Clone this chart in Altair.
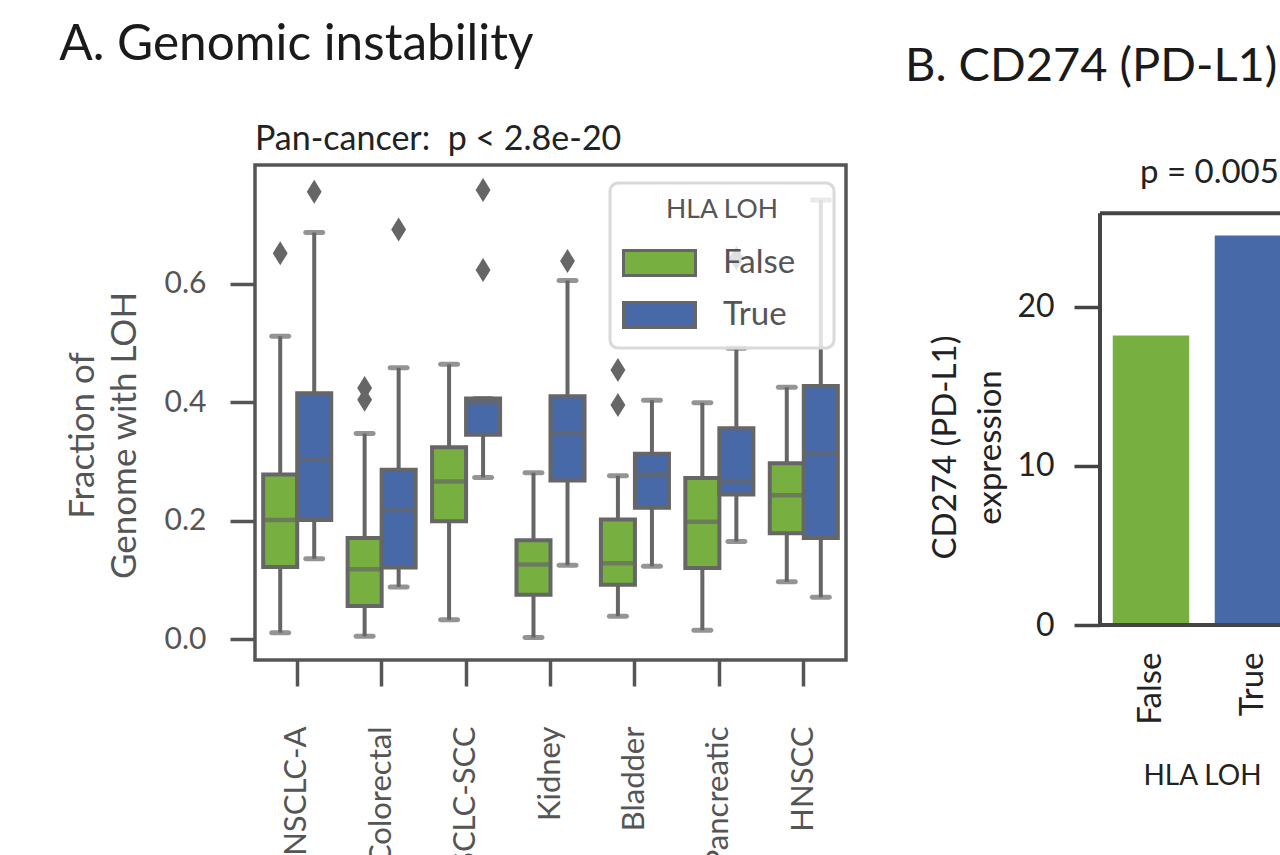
import altair as alt
import pandas as pd

# ---------------- data ----------------
cancers = ["NSCLC-A", "Colorectal", "NSCLC-SCC", "Kidney", "Bladder", "Pancreatic", "HNSCC"]
hla_levels = ["False", "True"]

false_lo = [0.011, 0.005, 0.033, 0.003, 0.039, 0.015, 0.097]
false_q1 = [0.122, 0.056, 0.199, 0.075, 0.092, 0.120, 0.179]
false_med = [0.201, 0.118, 0.266, 0.126, 0.128, 0.198, 0.243]
false_q3 = [0.278, 0.171, 0.324, 0.167, 0.202, 0.272, 0.297]
false_hi = [0.511, 0.347, 0.464, 0.281, 0.276, 0.399, 0.425]

true_lo = [0.136, 0.088, 0.273, 0.125, 0.123, 0.165, 0.071]
true_q1 = [0.201, 0.121, 0.345, 0.268, 0.222, 0.244, 0.171]
true_med = [0.303, 0.218, 0.400, 0.348, 0.278, 0.267, 0.313]
true_q3 = [0.415, 0.286, 0.406, 0.410, 0.313, 0.356, 0.427]
true_hi = [0.686, 0.458, 0.406, 0.605, 0.403, 0.491, 0.741]

outlier_cancer = ["NSCLC-A", "NSCLC-A", "Colorectal", "Colorectal", "Colorectal",
                  "NSCLC-SCC", "NSCLC-SCC", "Kidney", "Bladder", "Bladder", "Pancreatic"]
outlier_hla = ["False", "True", "False", "False", "True",
               "True", "True", "True", "False", "False", "True"]
outlier_val = [0.651, 0.755, 0.424, 0.404, 0.691, 0.758, 0.623, 0.638, 0.454, 0.395, 0.643]

pdl1_hla = ["False", "True"]
pdl1_val = [18.2, 24.5]
PDL1_AXIS_TOP = 25.9  # top of the framed area of panel B

# ---------------- tables ----------------
rows = []
for i, c in enumerate(cancers):
    rows.append(dict(cancer=c, hla="False", lo=false_lo[i], q1=false_q1[i], med=false_med[i],
                     q3=false_q3[i], hi=false_hi[i]))
    rows.append(dict(cancer=c, hla="True", lo=true_lo[i], q1=true_q1[i], med=true_med[i],
                     q3=true_q3[i], hi=true_hi[i]))
box_df = pd.DataFrame(rows)
out_df = pd.DataFrame({"cancer": outlier_cancer, "hla": outlier_hla, "val": outlier_val})
bar_df = pd.DataFrame({"hla": pdl1_hla, "val": pdl1_val})

GREEN = "#77b041"
BLUE = "#4869a8"
EDGE = "#666666"
FONT = "Lato"
GRAY_TXT = "#555555"
DARK_TXT = "#222222"

color_scale = alt.Scale(domain=hla_levels, range=[GREEN, BLUE])

# ---------------- panel A ----------------
x_enc = alt.X("cancer:N", sort=cancers, title=None,
              scale=alt.Scale(paddingInner=0, paddingOuter=0),
              axis=alt.Axis(domain=False, grid=False, ticks=True, tickSize=26, tickWidth=3.5,
                            tickColor=GRAY_TXT, labelAngle=-90, labelFontSize=31,
                            labelColor=GRAY_TXT, labelPadding=40))
xo_enc = alt.XOffset("hla:N", sort=hla_levels,
                     scale=alt.Scale(paddingInner=0, paddingOuter=0.241))
y_scale = alt.Scale(domain=[-0.035, 0.80], nice=False, zero=False)
y_axis = alt.Axis(values=[0, 0.2, 0.4, 0.6], format=".1f", domain=False, grid=False,
                  tickSize=25, tickWidth=3.5, tickColor=GRAY_TXT,
                  labelFontSize=30, labelColor=GRAY_TXT, labelPadding=24,
                  titleFontSize=35, titleColor=GRAY_TXT, titleFontWeight="normal",
                  titleLineHeight=42, titleX=-155, titleY=270, titleBaseline="bottom")
y_title = ["Fraction of", "Genome with LOH"]


def yq(field):
    return alt.Y(f"{field}:Q", scale=y_scale, axis=y_axis, title=y_title)


base = alt.Chart(box_df).encode(x=x_enc, xOffset=xo_enc)

whisk = base.mark_rule(color=EDGE, strokeWidth=4).encode(y=yq("lo"), y2="hi:Q")
cap_lo = base.mark_tick(color=EDGE, size=22, thickness=5, cornerRadius=2.5).encode(y=yq("lo"))
cap_hi = base.mark_tick(color=EDGE, size=22, thickness=5, cornerRadius=2.5).encode(y=yq("hi"))
boxes = base.mark_bar(stroke=EDGE, strokeWidth=4).encode(
    y=yq("q1"), y2="q3:Q",
    color=alt.Color("hla:N", scale=color_scale,
                    legend=alt.Legend(title="HLA LOH", orient="none", legendX=355, legendY=18,
                                      titleFontSize=26.5, titleColor=GRAY_TXT,
                                      titleFontWeight="normal", titleAnchor="middle",
                                      titlePadding=20,
                                      labelFontSize=33, labelColor=GRAY_TXT,
                                      labelExpr="datum.label + '\u2800'",
                                      symbolType="M-2,-0.7H2V0.7H-2Z", symbolSize=1296,
                                      symbolStrokeColor=EDGE, symbolStrokeWidth=3,
                                      symbolOffset=16, labelOffset=44, rowPadding=13,
                                      padding=14, cornerRadius=8,
                                      strokeColor="#d9d9d9",
                                      fillColor="rgba(255,255,255,0.8)")))
medians = base.mark_tick(color=EDGE, size=34, thickness=4.5).encode(y=yq("med"))
outliers = alt.Chart(out_df).mark_point(
    shape="M0,-1L0.62,0L0,1L-0.62,0Z", filled=True, color=EDGE, opacity=1, size=576
).encode(x=x_enc, xOffset=xo_enc, y=yq("val"))

chartA = alt.layer(whisk, cap_lo, cap_hi, boxes, medians, outliers).properties(
    width=591, height=495,
    view=alt.ViewBackground(stroke="#555555", strokeWidth=3.5),
    title=alt.TitleParams("Pan-cancer: \u00a0p < 2.8e-20", anchor="start", frame="group",
                          fontSize=34, fontWeight="normal", color=DARK_TXT, offset=8),
)

# ---------------- panel B ----------------
yB_scale = alt.Scale(domain=[0, 28.93], nice=False)
yB_axis = alt.Axis(values=[0, 10, 20], domain=False, grid=False,
                   tickSize=26, tickWidth=3.5, tickColor="#444444",
                   labelFontSize=32, labelColor=DARK_TXT, labelPadding=20,
                   titleFontSize=33, titleColor=DARK_TXT, titleFontWeight="normal",
                   titleLineHeight=45, titleX=-138, titleY=282, titleBaseline="bottom")
yB_title = ["CD274 (PD-L1)", "expression"]
# the panel is cut by the figure edge: the band range runs past the visible plot width
xB_enc = alt.X("hla:N", sort=pdl1_hla,
               scale=alt.Scale(range=[0, 204], paddingInner=0.25, paddingOuter=0.125),
               axis=alt.Axis(domain=False, ticks=False, grid=False, labelAngle=-90,
                             labelFontSize=33, labelColor=DARK_TXT, labelPadding=27,
                             title="HLA LOH", titleFontSize=28, titleColor=DARK_TXT,
                             titleFontWeight="normal", titlePadding=38))

barsB = alt.Chart(bar_df).mark_bar(clip=True).encode(
    x=xB_enc,
    y=alt.Y("val:Q", scale=yB_scale, axis=yB_axis, title=yB_title),
    color=alt.Color("hla:N", scale=color_scale, legend=None),
)
one_row = alt.Chart(bar_df).transform_filter(alt.datum.hla == "False")
frame_top = one_row.mark_rule(color="#444444", strokeWidth=4).encode(
    y=alt.datum(PDL1_AXIS_TOP))
frame_bottom = one_row.mark_rule(color="#444444", strokeWidth=4).encode(
    y=alt.datum(0))
frame_left = one_row.mark_rule(color="#444444", strokeWidth=4).encode(
    x=alt.value(0), y=alt.datum(0), y2=alt.datum(PDL1_AXIS_TOP))

chartB = alt.layer(barsB, frame_top, frame_bottom, frame_left).properties(
    width=182, height=460,
    view=alt.ViewBackground(stroke="transparent", strokeWidth=0),
    title=alt.TitleParams("p = 0.005", anchor="start", frame="group", dx=40,
                          fontSize=33, fontWeight="normal", color=DARK_TXT, offset=-25),
)

wrapA = alt.vconcat(chartA, title=alt.TitleParams(
    "A. Genomic instability", anchor="start", frame="bounds", fontSize=49.5,
    fontWeight="normal", color="#1a1a1a", offset=51, dx=-4))
wrapB = alt.vconcat(chartB, title=alt.TitleParams(
    "B. CD274 (PD-L1)", anchor="start", frame="bounds", fontSize=47,
    fontWeight="normal", color="#1a1a1a", offset=66, dx=-24))

# fixed 1280x855 canvas (panel A plot origin at 255,165): the figure is cut at its
# right and bottom edges
chart = alt.hconcat(wrapA, wrapB, spacing=56).properties(
    autosize=alt.AutoSizeParams(type="none"),
    padding={"left": 255, "top": 165, "right": 1025, "bottom": 690},
).configure(font=FONT).configure_legend(strokeWidth=3)

chart.save("out.html", embed_options={"renderer": "svg", "actions": False})
